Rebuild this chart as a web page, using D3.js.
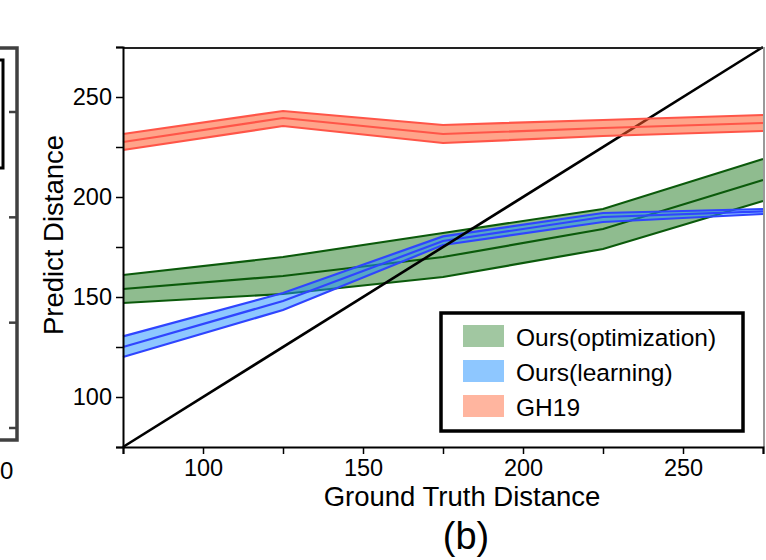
<!DOCTYPE html>
<html>
<head>
<meta charset="utf-8">
<script src="https://d3js.org/d3.v7.min.js"></script>
<style>
  body { margin: 0; background: #fff; }
  svg text { font-family: "Liberation Sans", Arial, sans-serif; fill: #000; }
</style>
</head>
<body>
<div id="chart"></div>
<script>
// ground truth distances where the bands are sampled
var gtDist = [75, 125, 175, 225, 275];

// Ours(optimization)
var optMean  = [154, 160.5, 170, 184, 208.5];
var optUpper = [161, 170, 182, 194, 219];
var optLower = [147, 151.5, 160, 174, 198];

// Ours(learning)
var learnMean  = [125, 148, 178, 190, 192.8];
var learnUpper = [130.3, 152, 180.3, 192, 194];
var learnLower = [120, 143.5, 176, 187.5, 191.5];

// GH19
var ghMean  = [227.5, 239.5, 231.5, 234.5, 237];
var ghUpper = [231.5, 243, 236, 238.5, 241];
var ghLower = [223.5, 235.5, 227, 230.5, 233];

var legendNames = ["Ours(optimization)", "Ours(learning)", "GH19"];
var xTicks = [75, 100, 125, 150, 175, 200, 225, 250, 275];
var yTicks = [75, 100, 125, 150, 175, 200, 225, 250, 275];

// ticks of the neighbouring panel that is cut off on the left
var leftPanelTicks = [0, 1, 2, 3];

var width = 766, height = 560;
var svg = d3.select("#chart").append("svg")
    .attr("width", width)
    .attr("height", height);

var x = d3.scaleLinear().domain([75, 275]).range([123, 763]);
var y = d3.scaleLinear().domain([75, 275]).range([447, 47]);

// --- cut off panel (a) on the left ---
var yLeft = d3.scaleLinear().domain([0, 3]).range([112, 428]);
svg.append("rect")
    .attr("x", -20).attr("y", 48).attr("width", 37).attr("height", 392)
    .attr("fill", "none").attr("stroke", "#404040").attr("stroke-width", 3.5);
svg.append("rect")
    .attr("x", -20).attr("y", 60).attr("width", 23).attr("height", 108)
    .attr("fill", "none").attr("stroke", "#000").attr("stroke-width", 3);
svg.selectAll(".lt").data(leftPanelTicks).enter().append("line")
    .attr("x1", 16).attr("x2", 9)
    .attr("y1", function(d) { return yLeft(d); })
    .attr("y2", function(d) { return yLeft(d); })
    .attr("stroke", "#404040").attr("stroke-width", 2.5);
svg.append("text")
    .attr("x", 0).attr("y", 479)
    .style("font-size", "24px")
    .text("0");

// --- bands ---
function rows(mean, lo, hi) {
    return gtDist.map(function(g, i) {
        return { g: g, m: mean[i], lo: lo[i], hi: hi[i] };
    });
}

var area = d3.area()
    .x(function(d) { return x(d.g); })
    .y0(function(d) { return y(d.lo); })
    .y1(function(d) { return y(d.hi); });

function band(data, fill, opacity, stroke) {
    var g = svg.append("g");
    g.append("path").datum(data)
        .attr("d", area)
        .attr("fill", fill).attr("fill-opacity", opacity);
    ["lo", "m", "hi"].forEach(function(k) {
        g.append("path").datum(data)
            .attr("d", d3.line()
                .x(function(d) { return x(d.g); })
                .y(function(d) { return y(d[k]); }))
            .attr("fill", "none")
            .attr("stroke", stroke)
            .attr("stroke-width", 2.2);
    });
}

band(rows(optMean, optLower, optUpper), "#1f7a1f", 0.5, "#0b5a0b");
band(rows(learnMean, learnLower, learnUpper), "#1e90ff", 0.5, "#2f45ff");

// y = x reference line
svg.append("path")
    .datum([75, 275])
    .attr("d", d3.line().x(function(d) { return x(d); }).y(function(d) { return y(d); }))
    .attr("stroke", "#000").attr("stroke-width", 2.6).attr("fill", "none");

band(rows(ghMean, ghLower, ghUpper), "#ff5a2a", 0.55, "#ff5548");

// --- frame ---
svg.append("line").attr("x1", 123).attr("x2", 764).attr("y1", 48).attr("y2", 48)
    .attr("stroke", "#222").attr("stroke-width", 2);
svg.append("line").attr("x1", 764).attr("x2", 764).attr("y1", 47).attr("y2", 447)
    .attr("stroke", "#999").attr("stroke-width", 2);

// --- axes ---
var xAxis = svg.append("g")
    .attr("transform", "translate(0,447)")
    .call(d3.axisBottom(x).tickValues(xTicks).tickSize(7).tickPadding(5)
        .tickFormat(function(d) { return d % 50 === 0 ? d : ""; }));
var yAxis = svg.append("g")
    .attr("transform", "translate(123,0)")
    .call(d3.axisLeft(y).tickValues(yTicks).tickSize(7).tickPadding(4)
        .tickFormat(function(d) { return d % 50 === 0 ? d : ""; }));

[xAxis, yAxis].forEach(function(a) {
    a.select(".domain").attr("stroke", "#000").attr("stroke-width", 2);
    a.selectAll(".tick line").attr("stroke", "#000").attr("stroke-width", 1.5);
    a.selectAll(".tick text").style("font-size", "23.5px")
        .style("font-family", "'Liberation Sans', Arial, sans-serif");
});

svg.append("text")
    .attr("transform", "translate(63,235) rotate(-90)")
    .attr("text-anchor", "middle")
    .style("font-size", "27.5px")
    .text("Predict Distance");

svg.append("text")
    .attr("x", 462).attr("y", 506)
    .attr("text-anchor", "middle")
    .style("font-size", "27.5px")
    .text("Ground Truth Distance");

svg.append("text")
    .attr("x", 466).attr("y", 549)
    .attr("text-anchor", "middle")
    .style("font-size", "38px")
    .text("(b)");

// --- legend ---
var legColors = ["#1f7a1f", "#1e90ff", "#ff5a2a"];
var legOpacity = [0.42, 0.5, 0.45];
var leg = svg.append("g");
leg.append("rect")
    .attr("x", 441).attr("y", 313).attr("width", 302).attr("height", 118)
    .attr("fill", "#fff").attr("stroke", "#000").attr("stroke-width", 3.5);
var legRow = d3.scaleBand().domain(legendNames).range([325, 430]);
legendNames.forEach(function(name, i) {
    leg.append("rect")
        .attr("x", 463).attr("y", legRow(name))
        .attr("width", 41).attr("height", 22)
        .attr("fill", legColors[i]).attr("fill-opacity", legOpacity[i]);
    leg.append("text")
        .attr("x", 516).attr("y", legRow(name) + 21)
        .style("font-size", "24.5px")
        .text(name);
});
</script>
</body>
</html>
